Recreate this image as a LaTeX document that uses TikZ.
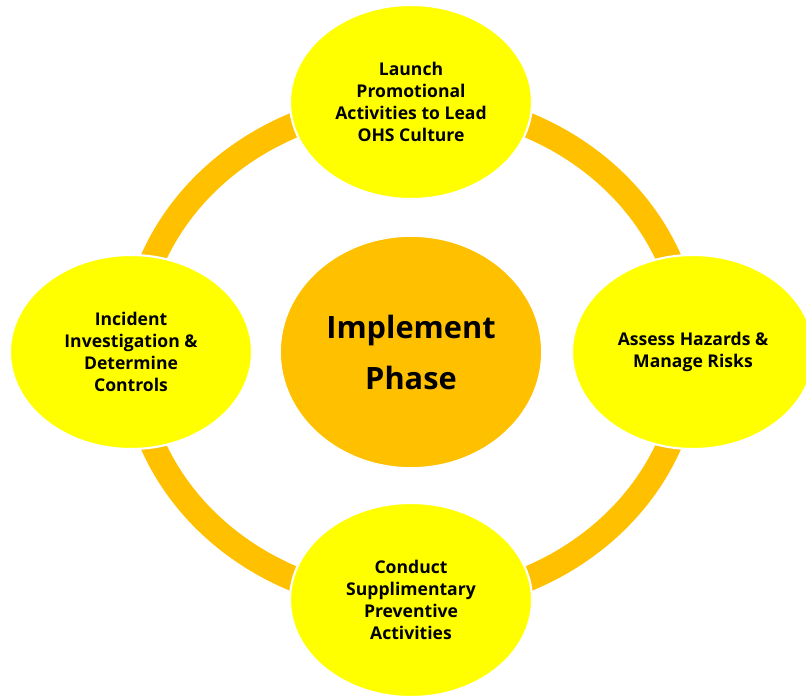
\documentclass[tikz,border=0pt]{standalone}
\usepackage{fontspec}
\setmainfont{Open Sans}
\usetikzlibrary{shapes.geometric, positioning}
\definecolor{ringorange}{HTML}{FFC000}
\definecolor{stepyellow}{HTML}{FFFF00}
\tikzset{hub/.style={ellipse, fill=ringorange, draw=white, line width=1pt, inner sep=0pt,
    minimum width=5.24cm, minimum height=4.64cm, align=center,
    font=\fontsize{17.5}{29}\selectfont\bfseries},
  stepnode/.style={ellipse, fill=stepyellow, draw=white, line width=1.2pt, inner sep=0pt,
    minimum width=4.84cm, minimum height=3.88cm, align=center,
    font=\fontsize{10}{12.6}\selectfont\bfseries}}

\begin{document}
\begin{tikzpicture}
\useasboundingbox (-8.22,-6.88) rectangle (7.90,7.04);
\draw [ringorange, line width=0.5cm] (0,0) ellipse (5.56cm and 5.0cm);
\node [hub] (impl) at (0,0) {Implement\\Phase};
\node [stepnode] (launch) at (0,5.0) {Launch\\Promotional\\Activities to Lead\\OHS Culture};
\node [stepnode] (assess) at (5.64,0) {Assess Hazards \&\\Manage Risks};
\node [stepnode] (conduct) at (0,-4.96) {Conduct\\Supplimentary\\Preventive\\Activities};
\node [stepnode] (incident) at (-5.6,0) {Incident\\Investigation \&\\Determine\\Controls};
\end{tikzpicture}
\end{document}
